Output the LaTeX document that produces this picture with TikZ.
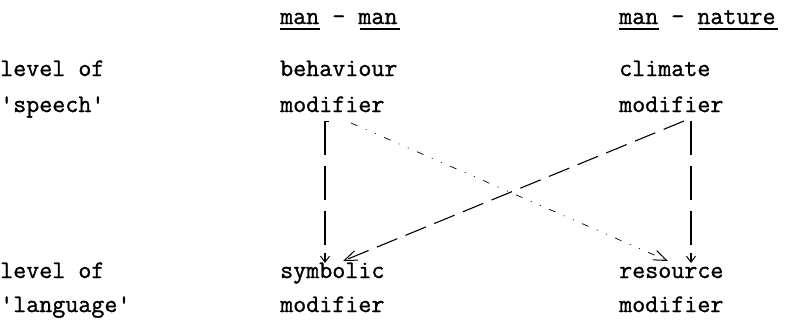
\documentclass[tikz,border=0pt]{standalone}
\usepackage{fontspec}
\setmonofont{Latin Modern Mono}[FakeBold=1.1]
\usetikzlibrary{arrows.meta,calc}
\begin{document}
\begin{tikzpicture}[x=1pt,y=-1pt,
  txt/.style={anchor=base west,inner sep=0pt,font=\fontsize{25.3}{30}\selectfont\ttfamily},
  uline/.style={line width=1.4pt},
  vdash/.style={line width=1.1pt,dash pattern=on 34pt off 11pt},
  vtip/.style={line width=1.1pt,
    -{Straight Barb[length=6pt,width=9pt,line width=1pt]}},
  dotlink/.style={line width=0.7pt,
    dash pattern=on 7pt off 9pt on 1pt off 9pt on 1pt off 9pt,
    -{Straight Barb[length=13pt,width=10pt,line width=1pt]}},
  longlink/.style={line width=1.1pt,dash pattern=on 22pt off 9pt,
    -{Straight Barb[length=13pt,width=10pt,line width=1pt]}}]
\useasboundingbox (0,0) rectangle (804,324);

% column headings
\def\cw{13.28}
\node[txt] (h1) at (280,24) {man - man};
\node[txt] (h2) at (619,24) {man - nature};
\draw[uline] ($(h1.base west)+(0,5)$) -- ++(3*\cw,0);
\draw[uline] ($(h1.base west)+(6*\cw,5)$) -- ++(3*\cw,0);
\draw[uline] ($(h2.base west)+(0,5)$) -- ++(3*\cw,0);
\draw[uline] ($(h2.base west)+(6*\cw,5)$) -- ++(6*\cw,0);

% row labels
\node[txt] (l1) at (0,76) {level of};
\node[txt] (l2) at (0,112) {'speech'};
\node[txt] (l3) at (0,278) {level of};
\node[txt] (l4) at (0,312) {'language'};

% modifiers
\node[txt] (b1) at (280,76) {behaviour};
\node[txt] (b2) at (280,112) {modifier};
\node[txt] (c1) at (619,76) {climate};
\node[txt] (c2) at (619,112) {modifier};
\node[txt] (s1) at (280,278) {symbolic};
\node[txt] (s2) at (280,312) {modifier};
\node[txt] (r1) at (619,278) {resource};
\node[txt] (r2) at (619,312) {modifier};

% connector end points
\coordinate (bTop)  at ($(b2.base west)+(45,9)$);
\coordinate (cTop)  at ($(c2.base west)+(72,9)$);
\coordinate (sMid)  at ($(s1.base west)+(45,-31)$);
\coordinate (rMid)  at ($(r1.base west)+(72,-31)$);
\coordinate (sStem) at ($(s1.base west)+(45,-25)$);
\coordinate (rStem) at ($(r1.base west)+(72,-25)$);
\coordinate (sBot)  at ($(s1.base west)+(45,-15)$);
\coordinate (rBot)  at ($(r1.base west)+(72,-15)$);
\coordinate (bDiag) at ($(b2.base west)+(71,11)$);
\coordinate (cDiag) at ($(c2.base west)+(65,9)$);
\coordinate (sDiag) at ($(s1.base west)+(63,-17)$);
\coordinate (rDiag) at ($(r1.base west)+(49,-17)$);

% vertical links: dashed shaft, short stem with tip
\draw[line width=1pt] (bTop) -- ++(4,0);
\draw[vdash] (bTop) -- (sMid);
\draw[vtip] (sStem) -- (sBot);
\draw[vdash] (cTop) -- (rMid);
\draw[vtip] (rStem) -- (rBot);

% crossing links
\draw[dotlink] (bDiag) -- (rDiag);
\draw[longlink] (cDiag) -- (sDiag);
\end{tikzpicture}
\end{document}
